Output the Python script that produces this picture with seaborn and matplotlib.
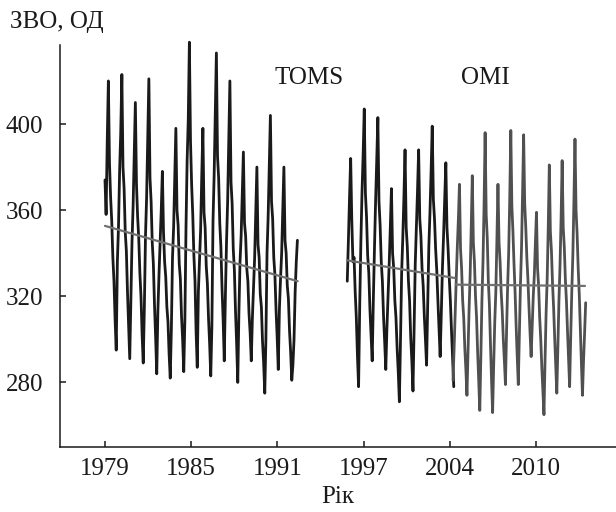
import numpy as np
import pandas as pd
import matplotlib
matplotlib.use("Agg")
import matplotlib.pyplot as plt
import seaborn as sns

# ---------------- data ----------------
# axis positions: evenly spaced ticks, labelled as in the source figure
tick_pos = [1979, 1985, 1991, 1997, 2003, 2009]
tick_labels = ["1979", "1985", "1991", "1997", "2004", "2010"]
y_ticks = [280, 320, 360, 400]

# TOMS (Nimbus-7) monthly total ozone, DU
toms_span = (1979.0, 1992.39)
toms_vals = [
    374, 358, 392, 420, 382, 366, 355, 338, 327, 309, 295, 336,
    352, 378, 396, 423, 380, 370, 350, 341, 322, 306, 291, 318,
    345, 362, 385, 410, 372, 357, 347, 331, 320, 302, 289, 315,
    348, 366, 393, 421, 375, 364, 345, 335, 316, 301, 284, 313,
    330, 345, 360, 378, 350, 336, 329, 315, 308, 293, 282, 305,
    338, 352, 375, 398, 360, 353, 335, 328, 311, 300, 285, 309,
    352, 383, 402, 438, 392, 372, 358, 339, 327, 303, 287, 322,
    337, 351, 376, 398, 359, 352, 334, 326, 310, 298, 283, 306,
    355, 376, 404, 433, 385, 375, 354, 343, 324, 309, 290, 320,
    345, 364, 391, 420, 373, 363, 342, 332, 313, 298, 280, 312,
    336, 348, 368, 387, 354, 348, 333, 327, 312, 303, 290, 310,
    324, 338, 359, 380, 344, 338, 321, 315, 299, 289, 275, 300,
    340, 357, 380, 404, 364, 356, 338, 330, 314, 301, 286, 314,
    328, 340, 360, 380, 346, 340, 325, 319, 304, 294, 281, 288,
    300, 322, 336, 346,
]

# TOMS (Earth Probe) monthly total ozone, DU
ep_span = (1995.86, 2003.27)
ep_vals = [
    327, 346, 366, 384, 355, 336, 338, 322, 310, 292, 278, 316,
    345, 368, 386, 407, 368, 357, 339, 331, 314, 302, 290, 318,
    342, 364, 383, 403, 364, 353, 336, 327, 311, 299, 286, 305,
    320, 335, 352, 370, 340, 333, 318, 310, 296, 285, 271, 300,
    331, 347, 366, 388, 352, 343, 327, 318, 301, 290, 276, 305,
    335, 352, 369, 388, 356, 348, 333, 325, 311, 300, 288, 316,
    343, 359, 378, 399, 365, 356, 342, 332, 318, 305, 292, 312,
    333, 348, 365, 382, 352, 342, 329, 318, 304, 291, 278,
]

# OMI monthly total ozone, DU
omi_span = (2003.22, 2012.45)
omi_vals = [
    281, 296, 312, 328, 343, 356,
    372, 342, 333, 318, 310, 296, 286, 274, 294, 314, 330, 352,
    376, 345, 336, 320, 310, 294, 281, 267, 292, 318, 336, 362,
    396, 358, 347, 327, 316, 298, 281, 266, 288, 308, 322, 346,
    372, 345, 336, 322, 313, 300, 290, 279, 303, 324, 340, 365,
    397, 362, 350, 335, 322, 306, 292, 279, 302, 325, 342, 368,
    395, 363, 352, 338, 328, 315, 303, 292, 306, 320, 330, 345,
    359, 333, 325, 310, 300, 287, 276, 265, 290, 312, 328, 352,
    381, 350, 341, 326, 315, 301, 288, 275, 296, 318, 334, 356,
    383, 352, 343, 328, 318, 304, 291, 278, 301, 322, 339, 364,
    393, 360, 349, 333, 321, 305, 289, 274, 290, 303, 317,
]

# linear trends (end points)
trend_toms_x = [1979.0, 1992.41]
trend_toms_y = [352.7, 327.0]
trend_ep_x = [1995.84, 2003.34]
trend_ep_y = [336.7, 328.5]
trend_omi_x = [2003.41, 2012.40]
trend_omi_y = [325.4, 324.8]

# ---------------- build frames ----------------
def seg_frame(span, vals, name):
    t = np.linspace(span[0], span[1], len(vals))
    return pd.DataFrame({"t": t, "o3": vals, "seg": name})

df_toms = seg_frame(toms_span, toms_vals, "TOMS")
df_ep = seg_frame(ep_span, ep_vals, "EP")
df_omi = seg_frame(omi_span, omi_vals, "OMI")

# ---------------- plot ----------------
sns.set_style("ticks")
plt.rcParams["font.family"] = ["Liberation Serif", "DejaVu Serif"]

fig = plt.figure(figsize=(6.16, 5.12), dpi=100)
ax = fig.add_axes([60 / 616, 65 / 512, 556 / 616, 402 / 512])

black = "#1a1a1a"
grey = "#505050"
trend_c = "#707070"
fs = 18

for d, c in [(df_toms, black), (df_ep, black), (df_omi, grey)]:
    sns.lineplot(data=d, x="t", y="o3", ax=ax, color=c, lw=2.0,
                 estimator=None, sort=False, legend=False, clip_on=False)

for xs, ys in [(trend_toms_x, trend_toms_y), (trend_ep_x, trend_ep_y),
               (trend_omi_x, trend_omi_y)]:
    sns.lineplot(x=xs, y=ys, ax=ax, color=trend_c, lw=1.6,
                 estimator=None, sort=False, legend=False)

ax.set_xlim(1975.87, 2014.56)
ax.set_ylim(250, 436.7)
ax.set_xticks(tick_pos)
ax.set_xticklabels(tick_labels)
ax.set_yticks(y_ticks)
ax.tick_params(direction="in", length=4.5, width=1.1, labelsize=fs,
               colors="#1a1a1a")
ax.tick_params(axis="y", pad=12)
ax.tick_params(axis="x", pad=8)
sns.despine(ax=ax)
for s in ["left", "bottom"]:
    ax.spines[s].set_linewidth(1.1)
    ax.spines[s].set_color("#1a1a1a")

ax.set_xlabel("Рік", fontsize=fs, labelpad=4, color="#1a1a1a")
ax.set_ylabel("")
fig.text(10 / 616, 1 - 22 / 512, "ЗВО, ОД", fontsize=fs, ha="left",
         va="center", color="#1a1a1a")

ax.text(1993.23, 421.2, "TOMS", fontsize=fs, ha="center", va="center",
        color="#1a1a1a")
ax.text(2005.48, 421.2, "OMI", fontsize=fs, ha="center", va="center",
        color="#1a1a1a")

fig.savefig("out.png", dpi=100)
